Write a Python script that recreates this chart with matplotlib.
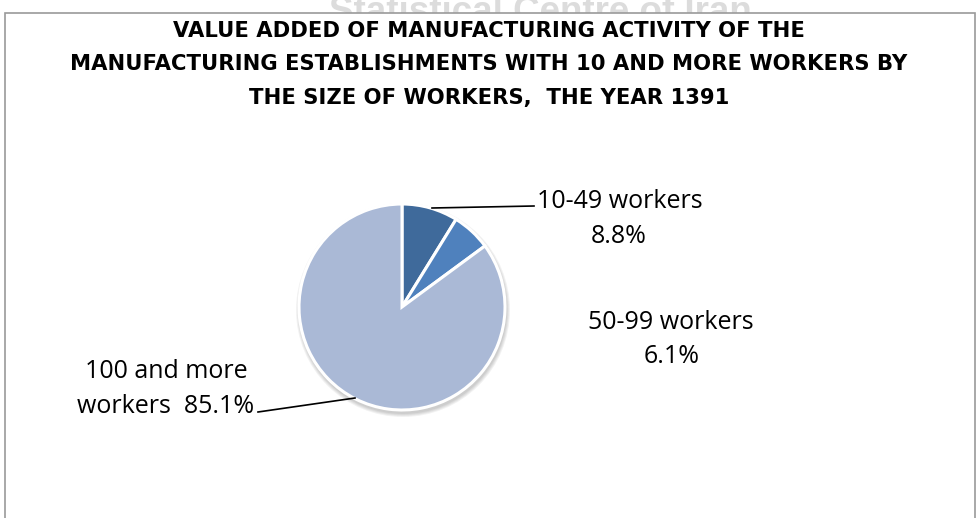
import matplotlib
matplotlib.use("Agg")
import matplotlib.pyplot as plt
from matplotlib.patches import Rectangle, Circle

categories = ["10-49 workers", "50-99 workers", "100 and more workers"]
shares = [8.8, 6.1, 85.1]
colors = ["#3F6A9B", "#4F81BD", "#AAB9D6"]
title_lines = [
    "VALUE ADDED OF MANUFACTURING ACTIVITY OF THE",
    "MANUFACTURING ESTABLISHMENTS WITH 10 AND MORE WORKERS BY",
    "THE SIZE OF WORKERS,  THE YEAR 1391",
]

W, H = 978, 518
fig = plt.figure(figsize=(W / 100, H / 100), dpi=100)
ax = fig.add_axes([0, 0, 1, 1])


def py(y):
    # pixel row (from top) to data y
    return H - y


# faint watermark peeking out above the chart frame
ax.text(540, py(22), "Statistical Centre of Iran", fontsize=26.5, fontweight="bold",
        color="#dcdcdc", ha="center", va="baseline", family="Liberation Sans", zorder=0)

# chart frame with white fill (hides the lower part of the watermark)
ax.add_patch(Rectangle((5, py(530)), 970, 517, facecolor="white", edgecolor="#9a9a9a",
                       linewidth=1.2, zorder=1))

for line, base in zip(title_lines, [37, 70, 104]):
    ax.text(489, py(base), line, ha="center", va="baseline", fontsize=15.2,
            fontweight="bold", family="DejaVu Sans", zorder=3)

cx, cy, r = 402, py(307), 103

# soft drop shadow under the pie
for i in range(4):
    ax.add_patch(Circle((cx + 1, cy - 3), r + 4 - i, color="#000000", alpha=0.05,
                        linewidth=0, zorder=2))

wedges, _ = ax.pie(shares, colors=colors, startangle=90, counterclock=False,
                   center=(cx, cy), radius=r, frame=True,
                   wedgeprops=dict(edgecolor="white", linewidth=2.2))
for w in wedges:
    w.set_zorder(3)
ax.set_xlim(0, W)
ax.set_ylim(0, H)
ax.axis("off")

lab = dict(fontsize=18, family="Open Sans", ha="center", va="baseline", zorder=4)

# 10-49 workers
ax.text(620, py(208), categories[0], **lab)
ax.text(619, py(243), f"{shares[0]}%", **lab)
ax.plot([432, 534], [py(208), py(206)], color="black", lw=1.2, zorder=4)

# 50-99 workers
ax.text(671, py(329), categories[1], **lab)
ax.text(672, py(363), f"{shares[1]}%", **lab)

# 100 and more workers
ax.text(166, py(378), "100 and more", **lab)
ax.text(166, py(413), f"workers  {shares[2]}%", **lab)
ax.plot([258, 355], [py(412), py(398)], color="black", lw=1.2, zorder=4)

fig.savefig("out.png", dpi=100, facecolor="white")
